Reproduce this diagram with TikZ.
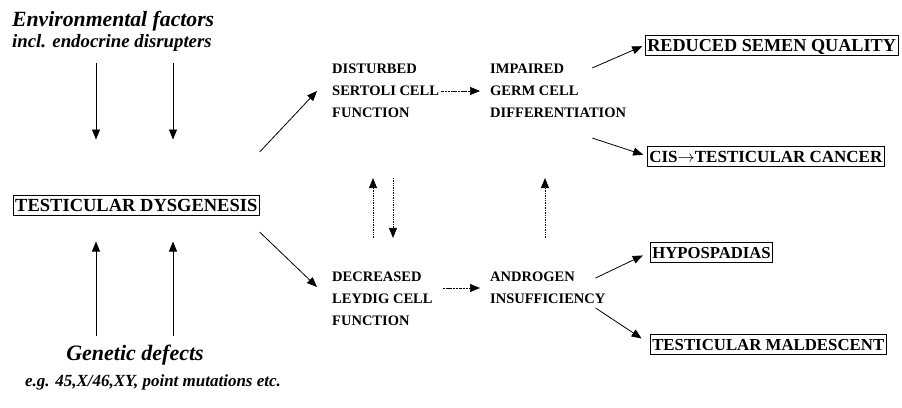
\documentclass[tikz,border=0pt]{standalone}
\usepackage{fontspec}
\setmainfont{Liberation Serif}
\usetikzlibrary{arrows.meta}

\begin{document}
\begin{tikzpicture}[x=1pt, y=-1pt,
    factor/.style={inner sep=0pt, anchor=base west},
    process/.style={inner sep=0pt, align=left, anchor=west,
      font=\bfseries\fontsize{14.5}{22}\selectfont},
    outcome/.style={rectangle, draw, line width=0.5pt, anchor=west,
      inner xsep=2pt, inner ysep=4pt, text height=12pt, text depth=0pt},
    arr/.style={-{Triangle[length=10pt,width=8pt]}, line width=0.8pt},
    dasharr/.style={arr, line width=0.6pt, dash pattern=on 2.5pt off 0.8pt},
    dotarr/.style={arr, line width=0.7pt, densely dotted}
    ]
\useasboundingbox (0,0) rectangle (902,407);

% causes
\node[factor, font=\bfseries\itshape\fontsize{21.7}{24}\selectfont] (env) at (12,26) {Environmental factors};
\node[factor, font=\bfseries\itshape\fontsize{18.8}{22}\selectfont] (envsub) at (12,47) {incl. endocrine disrupters};
\node[outcome, font=\bfseries\fontsize{18.5}{20}\selectfont, text height=12.5pt] (td) at (13,205) {TESTICULAR DYSGENESIS};
\node[factor, anchor=base, font=\bfseries\itshape\fontsize{22}{24}\selectfont] (gen) at (135,360) {Genetic defects};
\node[factor, anchor=base, font=\bfseries\itshape\fontsize{17}{20}\selectfont] (gensub) at (153,386) {e.g. 45,X/46,XY, point mutations etc.};

% cell functions
\node[process] (ser) at (332,91) {DISTURBED\\SERTOLI CELL\\FUNCTION};
\node[process] (ger) at (490,91) {IMPAIRED\\GERM CELL\\DIFFERENTIATION};
\node[process] (ley) at (332,299) {DECREASED\\LEYDIG CELL\\FUNCTION};
\node[process] (andro) at (490,288) {ANDROGEN\\INSUFFICIENCY};

% outcomes
\node[outcome, font=\bfseries\fontsize{18.2}{20}\selectfont] (rsq) at (645,45) {REDUCED SEMEN QUALITY};
\node[outcome, font=\bfseries\fontsize{17}{20}\selectfont] (cis) at (647,156) {CIS$\rightarrow$TESTICULAR CANCER};
\node[outcome, font=\bfseries\fontsize{16.7}{20}\selectfont] (hyp) at (650,252) {HYPOSPADIAS};
\node[outcome, font=\bfseries\fontsize{16.8}{20}\selectfont] (mal) at (650,344) {TESTICULAR MALDESCENT};

\coordinate (e1) at (96,0);
\coordinate (e2) at (173,0);
\draw[arr, shorten <=12pt, shorten >=55pt] (envsub.south -| e1) -- (td.north -| e1);
\draw[arr, shorten <=12pt, shorten >=55pt] (envsub.south -| e2) -- (td.north -| e2);
\draw[arr, shorten <=8pt, shorten >=26pt] (gen.north -| e1) -- (td.south -| e1);
\draw[arr, shorten <=8pt, shorten >=26pt] (gen.north -| e2) -- (td.south -| e2);

\draw[arr] ([yshift=53pt]td.east) -- ([xshift=-15pt]ser.west);
\draw[arr] ([yshift=-27pt]td.east) -- ([shift={(-15pt,12pt)}]ley.west);

\draw[dasharr, shorten <=2pt, shorten >=10pt] (ser.east) -- (ger.west);
\draw[dasharr, shorten <=10pt, shorten >=10pt] (ley.east |- andro.west) -- (andro.west);

\draw[dotarr, shorten <=34pt, shorten >=60pt] ([xshift=41pt]ley.north west) -- ([xshift=41pt]ser.south west);
\draw[dotarr, shorten <=60pt, shorten >=34pt] ([xshift=61pt]ser.south west) -- ([xshift=61pt]ley.north west);
\draw[dotarr, shorten <=34pt, shorten >=60pt] ([xshift=55pt]andro.north west) -- ([xshift=55pt]ger.south west);

\draw[arr, shorten >=3pt] ([shift={(-34pt,-4pt)}]ger.north east) -- (rsq.west);
\draw[arr, shorten >=4pt] ([shift={(-34pt,-20pt)}]ger.south east) -- (cis.west);
\draw[arr, shorten >=8pt] ([shift={(-10pt,10pt)}]andro.east) -- (hyp.west);
\draw[arr, shorten >=10pt] ([shift={(-10pt,-20pt)}]andro.east) -- (mal.west);
\end{tikzpicture}
\end{document}
